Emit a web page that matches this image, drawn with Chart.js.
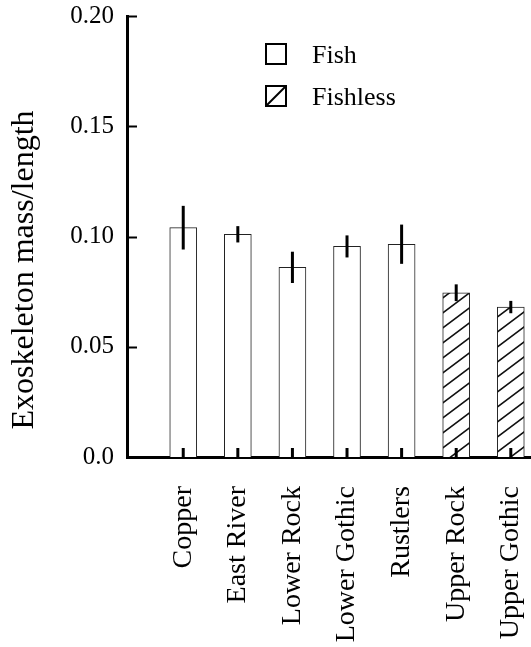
<!DOCTYPE html>
<html>
<head>
<meta charset="utf-8">
<script src="https://cdn.jsdelivr.net/npm/chart.js@4.4.1/dist/chart.umd.min.js"></script>
<style>
  html, body { margin: 0; padding: 0; background: #ffffff; }
  #wrap { width: 531px; height: 647px; }
</style>
</head>
<body>
<div id="wrap"><canvas id="c" width="531" height="647"></canvas></div>
<script>
// ---- data ----
const categories   = ['Copper', 'East River', 'Lower Rock', 'Lower Gothic', 'Rustlers', 'Upper Rock', 'Upper Gothic'];
const fishSites    = ['Copper', 'East River', 'Lower Rock', 'Lower Gothic', 'Rustlers'];
const fishValues   = [0.104, 0.101, 0.086, 0.0955, 0.0965];
const fishErrors   = [0.0099, 0.0037, 0.0071, 0.0050, 0.0089];
const fishlessSites  = ['Upper Rock', 'Upper Gothic'];
const fishlessValues = [0.0745, 0.0680];
const fishlessErrors = [0.0038, 0.0028];
const yTickValues  = [0, 0.05, 0.10, 0.15, 0.20];
const yTickLabels  = ['0.0', '0.05', '0.10', '0.15', '0.20'];
const yTitle = 'Exoskeleton mass/length';
const seriesNames = ['Fish', 'Fishless'];

const FONT = "'Liberation Serif', 'Times New Roman', serif";

// hatch pattern
function makeHatch() {
  const W = 20, H = 15;
  const c = document.createElement('canvas');
  c.width = W; c.height = H;
  const g = c.getContext('2d');
  g.fillStyle = '#ffffff';
  g.fillRect(0, 0, W, H);
  g.strokeStyle = '#111111';
  g.lineWidth = 1.6;
  g.beginPath();
  g.moveTo(-W, 2 * H); g.lineTo(2 * W, -H);
  g.moveTo(-2 * W, 2 * H); g.lineTo(W, -H);
  g.moveTo(0, 2 * H); g.lineTo(3 * W, -H);
  g.stroke();
  return g.createPattern(c, 'repeat');
}
const hatch = makeHatch();

const pos = (name) => categories.indexOf(name) + 1;
const xPositions = categories.map((_, i) => i + 1);

function zeroPad(s) {
  s.paddingTop = 0; s.paddingBottom = 0; s.paddingLeft = 0; s.paddingRight = 0;
}

const errorBarsPlugin = {
  id: 'errorBars',
  afterDatasetsDraw(chart) {
    const ctx = chart.ctx;
    const y = chart.scales.y;
    const errs = [fishErrors, fishlessErrors];
    ctx.save();
    ctx.strokeStyle = '#000';
    chart.data.datasets.forEach((ds, di) => {
      const meta = chart.getDatasetMeta(di);
      meta.data.forEach((el, i) => {
        const v = ds.data[i].y, e = errs[di][i];
        ctx.lineWidth = 3;
        ctx.beginPath();
        ctx.moveTo(el.x, y.getPixelForValue(v + e));
        ctx.lineTo(el.x, y.getPixelForValue(v - e));
        ctx.stroke();
        // small inward tick on the x axis
        ctx.beginPath();
        ctx.moveTo(el.x, y.getPixelForValue(0));
        ctx.lineTo(el.x, y.getPixelForValue(0) - 9);
        ctx.stroke();
      });
    });
    // inward y-axis ticks
    const xa = chart.chartArea.left;
    ctx.lineWidth = 2;
    yTickValues.forEach(v => {
      if (v === 0) return;
      const py = Math.round(y.getPixelForValue(v)) + 0.5;
      ctx.beginPath();
      ctx.moveTo(xa, py);
      ctx.lineTo(xa + 10, py);
      ctx.stroke();
    });
    ctx.restore();
  }
};

const legendPlugin = {
  id: 'innerLegend',
  afterDraw(chart) {
    const ctx = chart.ctx;
    const a = chart.chartArea;
    ctx.save();
    const bx = a.left + 139;
    const rows = [{ y: 44, fill: '#ffffff' }, { y: 86, fill: 'diag' }];
    chart.data.datasets.forEach((ds, i) => {
      const r = rows[i];
      const by = r.y;
      ctx.fillStyle = '#fff';
      ctx.fillRect(bx, by, 20, 20);
      ctx.strokeStyle = '#000';
      ctx.lineWidth = 2;
      ctx.strokeRect(bx, by, 20, 20);
      if (r.fill === 'diag') {
        ctx.beginPath();
        ctx.moveTo(bx, by + 20);
        ctx.lineTo(bx + 20, by);
        ctx.stroke();
      }
      ctx.fillStyle = '#000';
      ctx.font = '26px ' + FONT;
      ctx.textBaseline = 'alphabetic';
      ctx.textAlign = 'left';
      ctx.fillText(ds.label, bx + 46, by + 19);
    });
    // y axis title
    ctx.translate(33, 270);
    ctx.rotate(-Math.PI / 2);
    ctx.font = '32px ' + FONT;
    ctx.textAlign = 'center';
    ctx.textBaseline = 'alphabetic';
    ctx.fillText(yTitle, 0, 0);
    ctx.restore();
  }
};

new Chart(document.getElementById('c'), {
  type: 'bar',
  data: {
    datasets: [
      {
        label: seriesNames[0],
        data: fishSites.map((s, i) => ({ x: pos(s), y: fishValues[i] })),
        backgroundColor: '#ffffff',
        borderColor: '#222222',
        borderWidth: 1,
        barThickness: 27,
        grouped: false
      },
      {
        label: seriesNames[1],
        data: fishlessSites.map((s, i) => ({ x: pos(s), y: fishlessValues[i] })),
        backgroundColor: hatch,
        borderColor: '#222222',
        borderWidth: 1,
        barThickness: 27,
        grouped: false
      }
    ]
  },
  options: {
    responsive: false,
    animation: false,
    devicePixelRatio: 1,
    layout: { padding: { top: 16, right: 0, bottom: 0, left: 0 } },
    plugins: { legend: { display: false }, tooltip: { enabled: false } },
    scales: {
      x: {
        type: 'linear',
        offset: false,
        min: -0.03,
        max: 7.37,
        afterBuildTicks: (s) => { s.ticks = xPositions.map(v => ({ value: v })); },
        afterFit: (s) => { s.height = 190; zeroPad(s); },
        grid: { display: false, drawTicks: false, offset: false },
        border: { display: true, color: '#000', width: 3 },
        ticks: {
          autoSkip: false,
          minRotation: 90,
          maxRotation: 90,
          padding: 29,
          color: '#000',
          font: { family: FONT, size: 28 },
          callback: (v) => categories[xPositions.indexOf(v)]
        }
      },
      y: {
        min: 0,
        max: 0.2,
        afterBuildTicks: (s) => { s.ticks = yTickValues.map(v => ({ value: v })); },
        afterFit: (s) => { s.width = 127; zeroPad(s); },
        grid: { display: false, drawTicks: false },
        border: { display: true, color: '#000', width: 3 },
        ticks: {
          padding: 13,
          color: '#000',
          font: { family: FONT, size: 25 },
          callback: (v) => yTickLabels[yTickValues.indexOf(v)]
        }
      }
    }
  },
  plugins: [errorBarsPlugin, legendPlugin]
});
</script>
</body>
</html>
